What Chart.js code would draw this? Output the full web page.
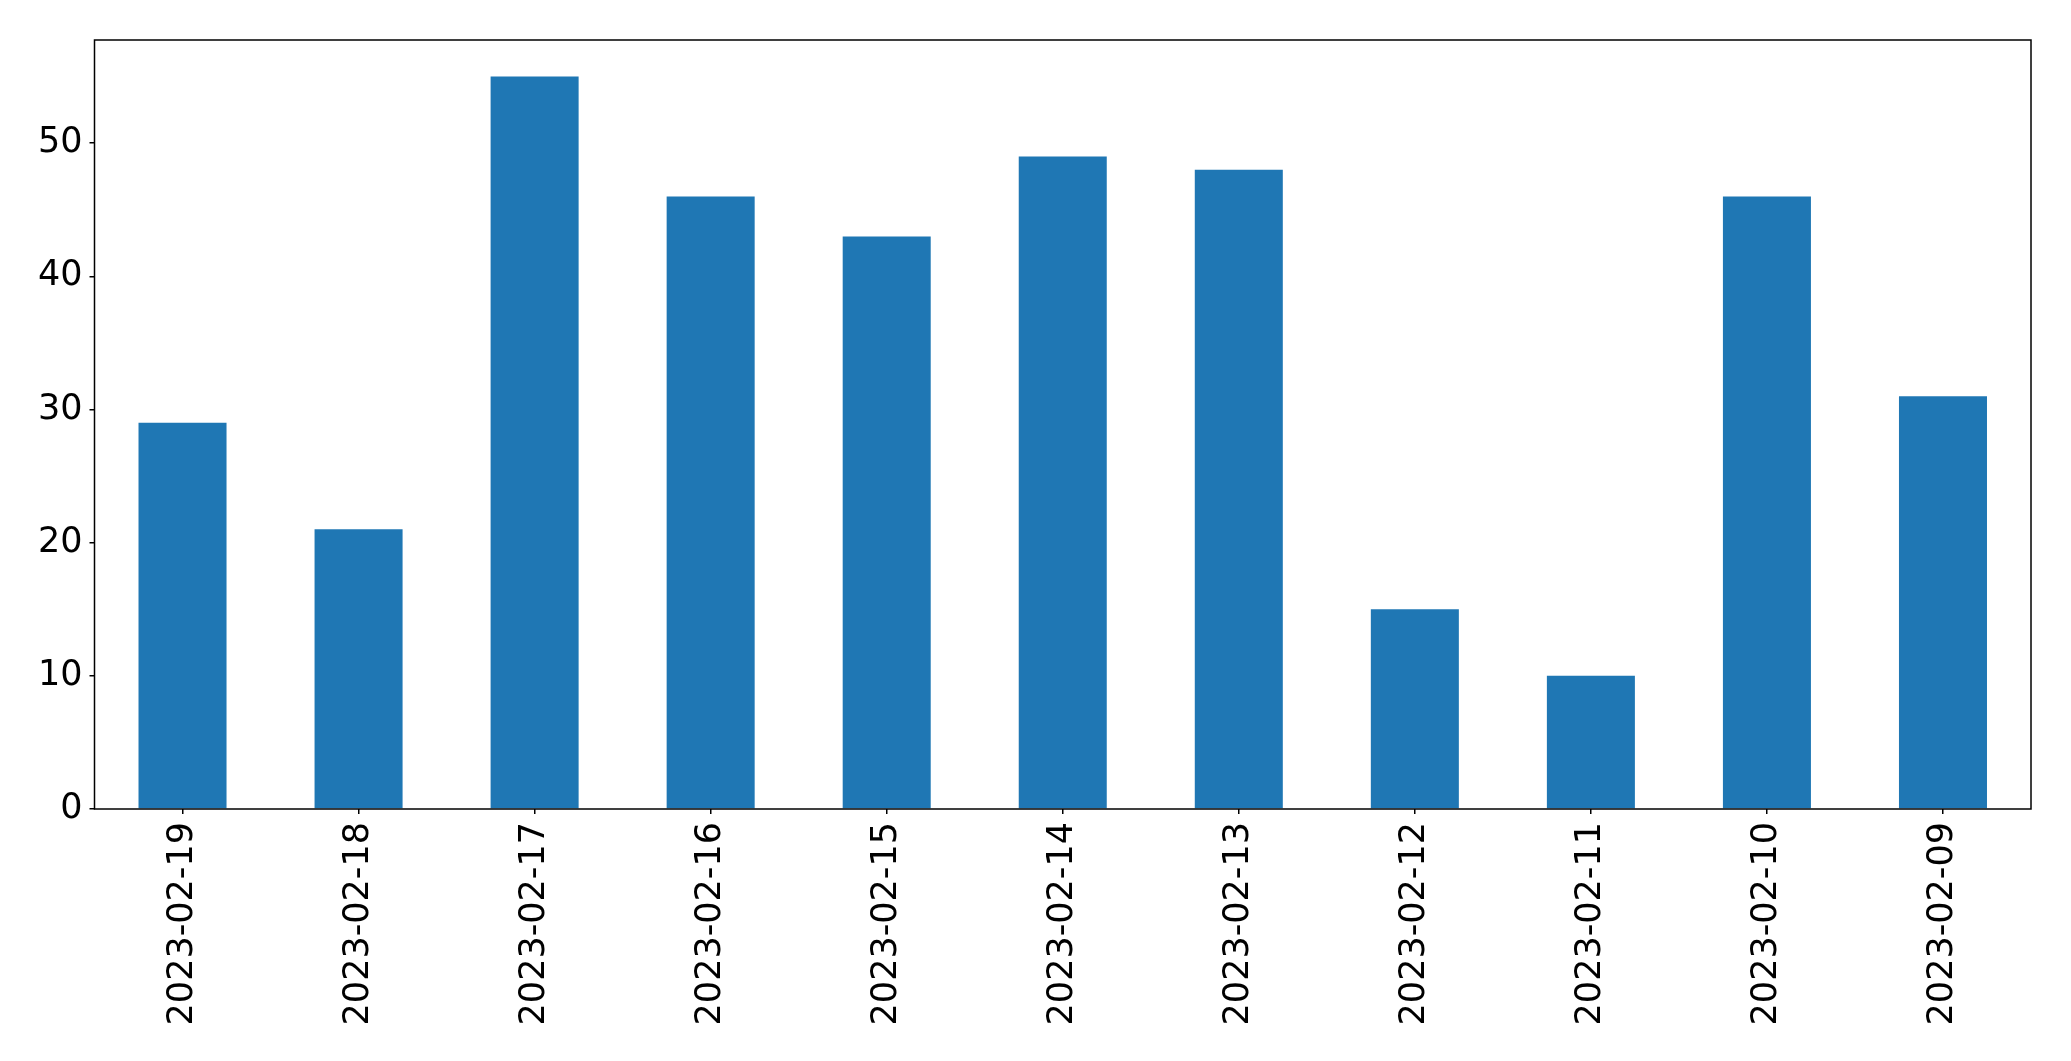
<!DOCTYPE html>
<html>
<head>
<meta charset="utf-8">
<script src="https://cdn.jsdelivr.net/npm/chart.js@4/dist/chart.umd.min.js"></script>
<style>
  html, body { margin: 0; padding: 0; background: #fff; }
  #wrap { width: 2071px; height: 1061px; }
</style>
</head>
<body>
<div id="wrap"><canvas id="chart" width="2071" height="1061"></canvas></div>
<script>
const dates = ["2023-02-19", "2023-02-18", "2023-02-17", "2023-02-16", "2023-02-15", "2023-02-14",
  "2023-02-13", "2023-02-12", "2023-02-11", "2023-02-10", "2023-02-09"]
const counts = [29, 21, 55, 46, 43, 49, 48, 15, 10, 46, 31]
const yTicks = [0, 10, 20, 30, 40, 50]

// matplotlib-style frame around the plot area
const frame = {
  id: "frame",
  afterDraw(chart) {
    const { ctx, chartArea: a } = chart
    ctx.save()
    ctx.strokeStyle = "#000"
    ctx.lineWidth = 1.5
    ctx.strokeRect(a.left, a.top, a.right - a.left, a.bottom - a.top)
    ctx.restore()
  }
}

const font = { family: "DejaVu Sans", size: 35 }

new Chart(document.getElementById("chart"), {
  type: "bar",
  data: {
    labels: dates,
    datasets: [{
      data: counts,
      backgroundColor: "#1f77b4",
      borderWidth: 0,
      barPercentage: 0.5,
      categoryPercentage: 1.0
    }]
  },
  options: {
    responsive: false,
    animation: false,
    layout: { padding: { top: 40, right: 40, left: 0, bottom: 0 } },
    plugins: { legend: { display: false }, tooltip: { enabled: false } },
    scales: {
      x: {
        grid: { display: true, drawOnChartArea: false, offset: false, tickLength: 5, color: "#000", lineWidth: 1.5 },
        border: { display: false },
        ticks: { color: "#000", font: font, minRotation: 90, maxRotation: 90, padding: 8, autoSkip: false },
        afterFit: s => { s.height = 1061 - 809 }
      },
      y: {
        min: 0,
        max: 57.75,
        grid: { display: true, drawOnChartArea: false, tickLength: 5, color: "#000", lineWidth: 1.5 },
        border: { display: false },
        afterBuildTicks: s => { s.ticks = yTicks.map(v => ({ value: v })) },
        ticks: { color: "#000", font: font, padding: 7 },
        afterFit: s => { s.width = 94.5 }
      }
    }
  },
  plugins: [frame]
})
</script>
</body>
</html>
